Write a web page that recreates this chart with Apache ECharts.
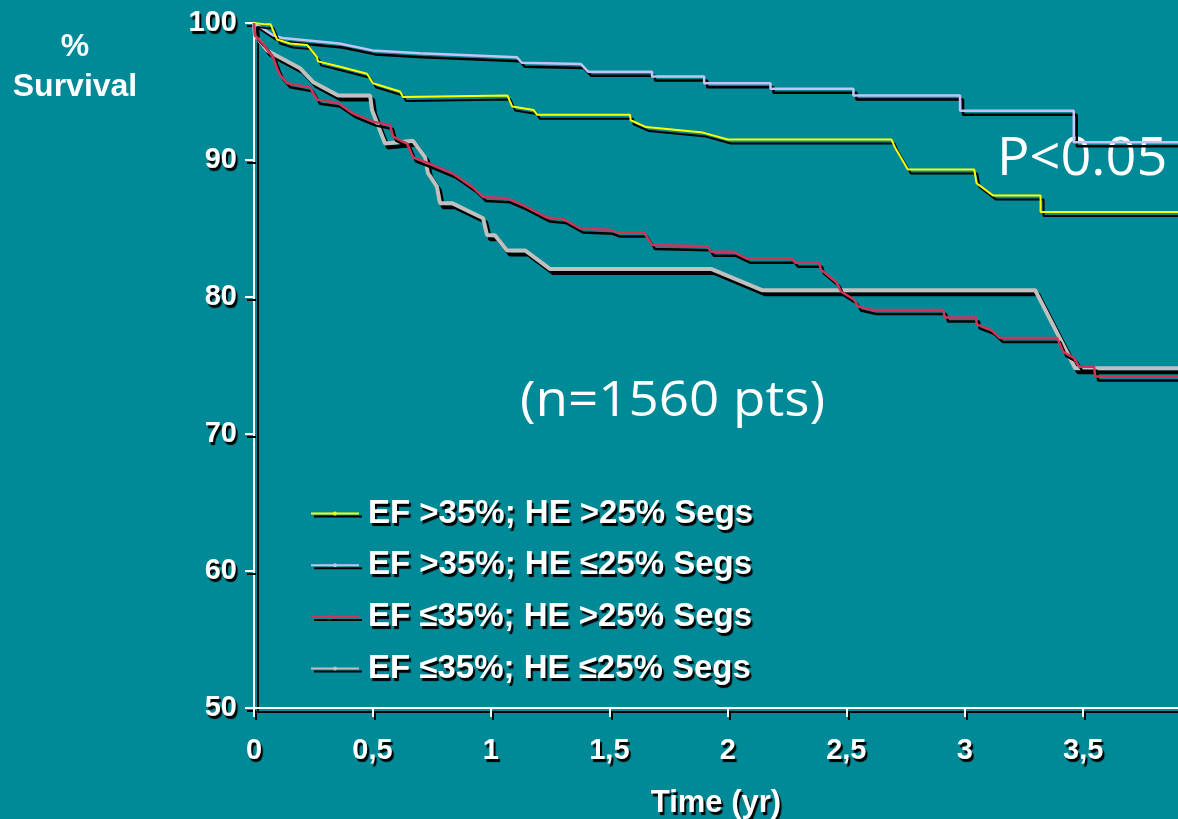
<!DOCTYPE html>
<html>
<head>
<meta charset="utf-8">
<title>Survival</title>
<script src="https://cdn.jsdelivr.net/npm/echarts@6/dist/echarts.min.js"></script>
<style>
  html, body { margin: 0; padding: 0; background: #008996; }
  #chart { width: 1178px; height: 819px; }
</style>
</head>
<body>
<div id="chart"></div>
<script>
// time (yr), survival (%)
var efHiHeHi = [[0,100],[0.05,99.9],[0.07,99.9],[0.097,98.8],[0.152,98.5],[0.224,98.4],[0.266,97.5],[0.27,97.2],[0.363,96.8],[0.477,96.3],[0.502,95.6],[0.616,95.0],[0.629,94.6],[1.07,94.7],[1.09,93.9],[1.18,93.65],[1.195,93.3],[1.587,93.3],[1.59,92.9],[1.655,92.4],[1.895,92.0],[2.0,91.5],[2.69,91.5],[2.706,90.9],[2.76,89.3],[3.04,89.3],[3.05,88.3],[3.12,87.4],[3.32,87.4],[3.32,86.2],[3.9,86.2]];
var efHiHeLo = [[0,100],[0.046,99.5],[0.08,99.1],[0.12,98.9],[0.36,98.5],[0.5,98.0],[0.7,97.8],[1.11,97.5],[1.13,97.1],[1.38,97.0],[1.41,96.45],[1.68,96.45],[1.68,96.1],[1.9,96.1],[1.9,95.6],[2.18,95.6],[2.18,95.2],[2.53,95.2],[2.53,94.7],[2.98,94.7],[2.98,93.6],[3.46,93.6],[3.46,91.3],[3.9,91.3]];
var efLoHeHi = [[0,100],[0.004,99.1],[0.038,98.5],[0.08,97.5],[0.097,96.7],[0.11,96.2],[0.14,95.6],[0.236,95.3],[0.266,94.4],[0.35,94.2],[0.418,93.4],[0.502,92.8],[0.574,92.55],[0.587,91.7],[0.646,91.2],[0.671,90.2],[0.73,89.8],[0.84,89.0],[0.924,88.0],[0.967,87.3],[1.068,87.2],[1.135,86.7],[1.237,85.8],[1.304,85.7],[1.376,85.0],[1.503,84.9],[1.532,84.7],[1.646,84.7],[1.68,83.8],[1.912,83.7],[1.929,83.3],[2.022,83.3],[2.081,82.8],[2.271,82.8],[2.284,82.5],[2.385,82.5],[2.393,82.0],[2.457,81.1],[2.478,80.4],[2.533,79.8],[2.55,79.3],[2.613,79.05],[2.908,79.05],[2.917,78.5],[3.048,78.5],[3.05,78.0],[3.111,77.6],[3.149,77.0],[3.39,77.0],[3.415,76.0],[3.461,75.55],[3.483,74.9],[3.546,74.9],[3.55,74.2],[3.9,74.2]];
var efLoHeLo = [[0,100],[0.004,99.1],[0.055,98.0],[0.194,96.7],[0.249,95.7],[0.355,94.7],[0.49,94.7],[0.498,93.65],[0.553,91.2],[0.671,91.4],[0.722,90.2],[0.734,89.05],[0.772,88.05],[0.785,86.85],[0.836,86.85],[0.967,85.75],[0.984,84.5],[1.017,84.5],[1.068,83.4],[1.144,83.4],[1.249,82.05],[1.929,82.05],[2.144,80.5],[3.297,80.5],[3.466,74.8],[3.9,74.8]];

var names = ['EF >35%; HE >25% Segs', 'EF >35%; HE \u226425% Segs', 'EF \u226435%; HE >25% Segs', 'EF \u226435%; HE \u226425% Segs'];
var colors = ['#ffff00', '#c4c4f4', '#d0345a', '#c0c0c0'];
var xTicks = [0, 0.5, 1, 1.5, 2, 2.5, 3, 3.5];

var FONT = 'Liberation Sans';
function txt(o) {
  return Object.assign({
    color: '#fff', fontFamily: FONT, fontWeight: 'bold',
    textShadowColor: '#000', textShadowOffsetX: 2, textShadowOffsetY: 3, textShadowBlur: 1
  }, o);
}

function line(name, data, color, w, z) {
  return {
    name: name, type: 'line', data: data, z: z,
    showSymbol: false, symbol: 'circle', symbolSize: 4,
    itemStyle: { color: color },
    lineStyle: { color: color, width: w, shadowColor: '#000', shadowOffsetX: 3, shadowOffsetY: 4, shadowBlur: 0 },
    emphasis: { disabled: true }, animation: false
  };
}

var chart = echarts.init(document.getElementById('chart'));
chart.setOption({
  backgroundColor: '#008996',
  animation: false,
  grid: { left: 254, right: 0, top: 23, bottom: 111, outerBoundsMode: 'none', containLabel: false },
  legend: {
    orient: 'vertical', left: 310, top: 497, padding: 0,
    itemWidth: 48, itemHeight: 5, itemGap: 18.7,
    data: names,
    lineStyle: { shadowColor: '#000', shadowOffsetX: 3, shadowOffsetY: 3, shadowBlur: 0 },
    textStyle: txt({ fontSize: 33, padding: [0, 0, 0, 4] })
  },
  xAxis: {
    type: 'value', min: 0, max: 3.9, interval: 0.5,
    name: 'Time (yr)', nameLocation: 'middle', nameGap: 80,
    nameTextStyle: txt({ fontSize: 31 }),
    axisLine: { lineStyle: { color: '#fff', width: 2, shadowColor: '#000', shadowOffsetX: 2, shadowOffsetY: 4 } },
    axisTick: { length: 9, lineStyle: { color: '#fff', width: 2, shadowColor: '#000', shadowOffsetX: 2, shadowOffsetY: 3 } },
    axisLabel: Object.assign(txt({ fontSize: 29, margin: 28, showMaxLabel: false }), {
      formatter: function (v) { return xTicks.indexOf(v) >= 0 ? String(v).replace('.', ',') : ''; }
    }),
    splitLine: { show: false }
  },
  yAxis: {
    type: 'value', min: 50, max: 100, interval: 10,
    axisLine: { show: true, lineStyle: { color: '#fff', width: 2, shadowColor: '#000', shadowOffsetX: 4, shadowOffsetY: 2 } },
    axisTick: { show: true, length: 9, lineStyle: { color: '#fff', width: 2, shadowColor: '#000', shadowOffsetX: 2, shadowOffsetY: 3 } },
    axisLabel: txt({ fontSize: 29, margin: 17 }),
    splitLine: { show: false }
  },
  graphic: [
    { type: 'text', x: 75, y: 67, style: {
      text: '%\nSurvival', fill: '#fff', font: 'bold 32px "Liberation Sans"', align: 'center', verticalAlign: 'middle', lineHeight: 40,
      shadowColor: '#000', shadowOffsetX: 2, shadowOffsetY: 3, shadowBlur: 1 } },
    { type: 'text', x: 997, y: 160, scaleX: 1.02, style: { text: 'P<0.05', fill: '#fff', font: '400 53px "Open Sans"', verticalAlign: 'middle' } },
    { type: 'text', x: 520, y: 402, scaleX: 1.08, style: { text: '(n=1560 pts)', fill: '#fff', font: '400 49px "Open Sans"', verticalAlign: 'middle' } }
  ],
  series: [
    line(names[0], efHiHeHi, colors[0], 2, 4),
    line(names[1], efHiHeLo, colors[1], 2.5, 3),
    line(names[2], efLoHeHi, colors[2], 2.5, 5),
    line(names[3], efLoHeLo, colors[3], 4, 2)
  ]
});
</script>
</body>
</html>
